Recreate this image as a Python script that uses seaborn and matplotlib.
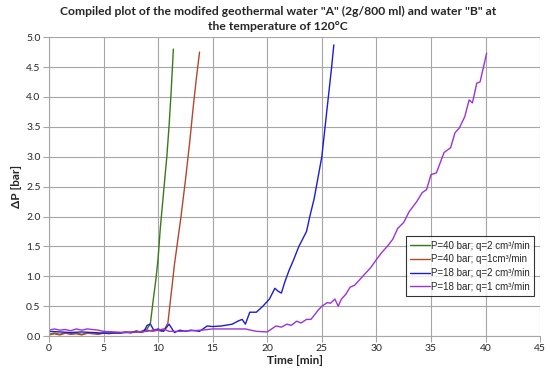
import matplotlib
matplotlib.use("Agg")
from matplotlib import pyplot as plt
import seaborn as sns

# P=40 bar, q=2 cm3/min
t_g = [0, 0.5, 1, 1.5, 2, 2.5, 3, 3.5, 4, 4.5, 5, 5.5, 6, 6.5, 7, 7.5, 8, 8.4, 8.7, 9.0,
       9.3, 9.55, 9.8, 10.0, 10.2, 10.4, 10.6, 10.8, 11.0, 11.2, 11.4]
p_g = [0.03, 0.05, 0.03, 0.06, 0.04, 0.05, 0.03, 0.05, 0.06, 0.04, 0.05, 0.05, 0.06, 0.05, 0.07, 0.06,
       0.08, 0.07, 0.1, 0.12, 0.22, 0.6, 0.95, 1.3, 1.8, 2.2, 2.6, 3.0, 3.5, 4.1, 4.8]

# P=40 bar, q=1 cm3/min
t_r = [0, 0.5, 1, 1.5, 2, 2.5, 3, 3.5, 4, 4.5, 5, 5.5, 6, 6.5, 7, 7.5, 8, 8.5, 9, 9.5, 10,
       10.3, 10.6, 10.9, 11.1, 11.3, 11.5, 11.8, 12.1, 12.5, 12.9, 13.2, 13.5, 13.8]
p_r = [0.02, 0.04, 0.02, 0.05, 0.03, 0.04, 0.02, 0.05, 0.04, 0.03, 0.05, 0.04, 0.06, 0.05, 0.07, 0.05,
       0.09, 0.06, 0.1, 0.08, 0.1, 0.08, 0.12, 0.22, 0.55, 0.87, 1.2, 1.6, 2.0, 2.6, 3.25, 3.8, 4.3, 4.75]

# P=18 bar, q=2 cm3/min
t_b = [0, 1, 2, 3, 4, 5, 6, 7, 8, 8.7, 9.0, 9.3, 9.6, 10, 10.5, 11.0, 11.5, 12, 12.5, 13, 13.8,
       14.5, 15.0, 15.8, 16.8, 17.3, 17.7, 18.0, 18.4, 19.0, 19.6, 20.2, 20.7, 21.0, 21.3, 21.6,
       22.0, 22.4, 22.9, 23.6, 23.9, 24.3, 24.6, 25.0, 25.3, 25.6, 25.9, 26.1]
p_b = [0.08, 0.07, 0.06, 0.07, 0.06, 0.05, 0.05, 0.06, 0.07, 0.08, 0.18, 0.2, 0.1, 0.12, 0.08, 0.2,
       0.06, 0.1, 0.08, 0.1, 0.08, 0.17, 0.16, 0.17, 0.2, 0.25, 0.28, 0.2, 0.4, 0.4, 0.5, 0.62, 0.8,
       0.75, 0.72, 0.9, 1.1, 1.27, 1.5, 1.75, 2.0, 2.3, 2.6, 3.0, 3.5, 4.0, 4.5, 4.87]

# P=18 bar, q=1 cm3/min
t_v = [0, 0.5, 1, 1.5, 2, 2.5, 3, 3.5, 4, 4.5, 5, 6, 7, 8, 9, 9.5, 10, 10.5, 11, 12, 13, 14, 15,
       16, 17, 18, 18.5, 19, 20, 20.8, 21.3, 21.8, 22.2, 22.7, 23.1, 23.6, 24.0, 24.4, 24.6, 25.0,
       25.5, 25.8, 26.2, 26.5, 26.8, 27.2, 27.6, 28.0, 28.5, 29.0, 29.5, 30.0, 30.5, 31.0, 31.5,
       31.95, 32.5, 33.0, 33.7, 34.2, 34.6, 35.0, 35.5, 36.2, 36.8, 37.2, 37.6, 38.1, 38.5, 38.8,
       39.2, 39.5, 40.1]
p_v = [0.1, 0.12, 0.1, 0.11, 0.09, 0.12, 0.1, 0.12, 0.11, 0.1, 0.08, 0.07, 0.06, 0.07, 0.08, 0.1,
       0.1, 0.12, 0.08, 0.08, 0.09, 0.1, 0.12, 0.12, 0.12, 0.12, 0.1, 0.08, 0.07, 0.17, 0.15, 0.2,
       0.18, 0.25, 0.22, 0.28, 0.28, 0.37, 0.42, 0.5, 0.56, 0.55, 0.62, 0.5, 0.62, 0.7, 0.82, 0.85,
       0.95, 1.05, 1.15, 1.28, 1.4, 1.5, 1.62, 1.8, 1.9, 2.08, 2.25, 2.4, 2.45, 2.7, 2.73, 3.07, 3.15,
       3.4, 3.48, 3.67, 3.95, 3.9, 4.23, 4.25, 4.73]

series = [
    ("P=40 bar; q=2 cm\u00b3/min", t_g, p_g, "#3a7a1e"),
    ("P=40 bar; q=1cm\u00b3/min", t_r, p_r, "#b5462c"),
    ("P=18 bar; q=2 cm\u00b3/min", t_b, p_b, "#1c1cd6"),
    ("P=18 bar; q=1 cm\u00b3/min", t_v, p_v, "#9933dd"),
]

sns.set_style("whitegrid", {"grid.color": "#a6a6a6", "axes.edgecolor": "#a6a6a6"})
plt.rcParams['font.family'] = ['Lato', 'DejaVu Sans']

fig = plt.figure(figsize=(5.5, 3.71), dpi=100)
ax = fig.add_axes([0.089, 0.094, 0.893, 0.806])

for name, t, p, c in series:
    sns.lineplot(x=t, y=p, color=c, label=name, ax=ax, sort=False, linewidth=1)

ax.set_xlim(0, 45)
ax.set_ylim(0, 5)
ax.set_xticks(range(0, 46, 5))
ax.set_yticks([i * 0.5 for i in range(11)])
ax.set_yticklabels([f"{i * 0.5:.1f}" for i in range(11)])
ax.tick_params(labelsize=7.5, length=4, color="#a6a6a6", pad=2, left=True, bottom=True)
ax.grid(True, linewidth=0.8)
for s in ["top", "right"]:
    ax.spines[s].set_visible(False)

ax.set_xlabel("Time [min]", fontsize=8.5, fontweight="bold", labelpad=1)
ax.set_ylabel("\u0394P [bar]", fontsize=8.5, fontweight="bold", labelpad=3)

fig.text(0.505, 0.983, 'Compiled plot of the modifed geothermal water "A" (2g/800 ml) and water "B" at\nthe temperature of 120\u00b0C',
         ha="center", va="top", fontsize=8.7, fontweight="bold", linespacing=1.45)

leg = ax.legend(loc="lower left", bbox_to_anchor=(0.727, 0.134),
                prop={"family": "Liberation Sans", "size": 7}, frameon=True, fancybox=False,
                handlelength=2.0, handletextpad=0.15, borderpad=0.45, labelspacing=0.38,
                borderaxespad=0)
leg.get_frame().set_edgecolor("black")
leg.get_frame().set_linewidth(0.8)

fig.savefig("out.png", dpi=100)
